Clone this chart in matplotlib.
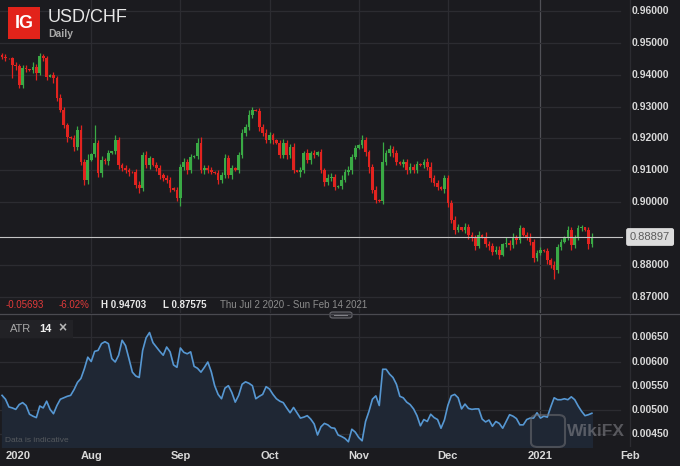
import numpy as np
import pandas as pd
import matplotlib
matplotlib.use('Agg')
import matplotlib.pyplot as plt
import matplotlib.transforms as mtransforms
from matplotlib.patches import Rectangle, FancyBboxPatch

plt.rcParams['font.family'] = ['Liberation Sans', 'DejaVu Sans']

# IG daily axis: Saturdays skipped, small Sunday candles kept
days = pd.date_range('2020-07-02', '2021-02-14')
days = days[days.dayofweek != 5]

first_open = 0.9462
closes = [
    # Jul
    0.9457, 0.9453, 0.9452, 0.9431, 0.9428, 0.9368, 0.9422, 0.9418, 0.9415, 0.9425,
    0.9405, 0.9460, 0.9453, 0.9395, 0.9400, 0.9390, 0.9327, 0.9290, 0.9242, 0.9205,
    0.9200, 0.9173, 0.9227, 0.9126, 0.9070, 0.9132,
    # Aug
    0.9150, 0.9186, 0.9090, 0.9132, 0.9128, 0.9154, 0.9160, 0.9195, 0.9116, 0.9107,
    0.9100, 0.9095, 0.9093, 0.9055, 0.9044, 0.9148, 0.9116, 0.9137, 0.9116, 0.9107,
    0.9085, 0.9075, 0.9070, 0.9044, 0.9038, 0.9013,
    # Sep
    0.9110, 0.9126, 0.9100, 0.9142, 0.9145, 0.9186, 0.9100, 0.9108, 0.9100, 0.9095,
    0.9090, 0.9070, 0.9085, 0.9138, 0.9085, 0.9107, 0.9100, 0.9148, 0.9217, 0.9236,
    0.9274, 0.9290, 0.9287, 0.9236, 0.9217, 0.9195,
    # Oct
    0.9210, 0.9195, 0.9185, 0.9148, 0.9186, 0.9148, 0.9173, 0.9100, 0.9095, 0.9100,
    0.9154, 0.9132, 0.9154, 0.9148, 0.9157, 0.9100, 0.9063, 0.9075, 0.9080, 0.9047,
    0.9050, 0.9070, 0.9095, 0.9100, 0.9142, 0.9170,
    # Nov
    0.9180, 0.9195, 0.9157, 0.9110, 0.9038, 0.9006, 0.9003, 0.9126, 0.9154, 0.9167,
    0.9154, 0.9126, 0.9120, 0.9126, 0.9100, 0.9110, 0.9100, 0.9120, 0.9115, 0.9125,
    0.9110, 0.9075, 0.9060, 0.9047, 0.9040, 0.9075,
    # Dec
    0.8997, 0.8943, 0.8912, 0.8920, 0.8912, 0.8920, 0.8896, 0.8887, 0.8862, 0.8896,
    0.8890, 0.8868, 0.8862, 0.8843, 0.8850, 0.8833, 0.8868, 0.8870, 0.8865, 0.8887,
    0.8880, 0.8918, 0.8896, 0.8890, 0.8874, 0.8824, 0.8840,
    # Jan
    0.8849, 0.8845, 0.8817, 0.8802, 0.8786, 0.8858, 0.8874, 0.8890, 0.8912, 0.8865,
    0.8887, 0.8918, 0.8920, 0.8912, 0.8868, 0.88897,
]

# wick lengths in pips above / below the body
wick_up = [
    8, 8, 2, 6, 10, 8, 10, 8, 2, 15, 10, 10.3, 6, 8, 2, 10, 8, 12, 10, 8, 2, 10, 12, 15, 10, 20,
    3, 56, 10, 12, 8, 10, 2, 15, 10, 8, 10, 6, 2, 10, 12, 10, 12, 8, 3, 10, 8, 6, 10, 8, 2, 10,
    10, 12, 8, 10, 3, 15, 20, 10, 8, 10, 2, 10, 8, 12, 10, 8, 2, 10, 12, 10, 15, 10, 3, 8, 10, 12,
    10, 8, 2, 10, 12, 8, 10, 12, 2, 10, 8, 12, 8, 10, 3, 10, 8, 12, 10, 8, 2, 15, 10, 12, 8, 10,
    3, 15, 10, 8, 10, 12, 2, 64, 10, 12, 8, 10, 2, 10, 8, 12, 10, 8, 2, 10, 12, 15, 10, 8, 2, 10,
    10, 8, 12, 10, 2, 15, 10, 8, 10, 12, 2, 15, 10, 8, 12, 10, 3, 20, 10, 15, 8, 10, 2, 10, 12, 8, 10,
    8, 2, 10, 8, 12, 10, 8, 2, 12, 10, 8, 10, 8, 2, 10, 12,
]
wick_dn = [
    6, 10, 2, 40, 12, 10, 8, 10, 2, 8, 20, 6, 10, 12, 2, 15, 10, 8, 10, 15, 2, 12, 10, 8, 15, 12,
    3, 8, 12, 10, 8, 10, 2, 8, 12, 10, 8, 12, 2, 10, 15, 8, 10, 12, 3, 10, 12, 8, 10, 12, 2, 10,
    25, 10, 12, 8, 2, 10, 10, 12, 10, 8, 2, 12, 10, 8, 10, 12, 2, 8, 10, 10, 8, 10, 2, 12, 10, 8,
    10, 12, 2, 8, 10, 12, 8, 10, 2, 15, 10, 8, 12, 10, 2, 10, 12, 10, 8, 10, 2, 10, 8, 10, 12, 8,
    3, 10, 12, 20, 10, 8, 2, 10, 8, 10, 12, 8, 2, 10, 12, 10, 8, 10, 2, 8, 10, 12, 10, 8, 2, 12,
    12, 10, 12, 8, 2, 10, 12, 10, 12, 8, 2, 10, 12, 10, 8, 12, 3, 10, 15, 10, 12, 8, 2, 10, 8, 12, 10,
    8, 2, 12, 10, 28.5, 10, 8, 2, 10, 15, 10, 8, 10, 2, 15, 10,
]

atr = [
    0.00530, 0.00522, 0.00506, 0.00504, 0.00501, 0.00511, 0.00515, 0.00509, 0.00491, 0.00487,
    0.00484, 0.00508, 0.00504, 0.00518, 0.00501, 0.00492, 0.00509, 0.00522, 0.00525, 0.00528,
    0.00530, 0.00542, 0.00557, 0.00565, 0.00585, 0.00609,
    0.00600, 0.00621, 0.00623, 0.00637, 0.00641, 0.00637, 0.00606, 0.00599, 0.00613, 0.00644,
    0.00633, 0.00606, 0.00578, 0.00570, 0.00567, 0.00623, 0.00649, 0.00660, 0.00639, 0.00630,
    0.00621, 0.00613, 0.00630, 0.00620, 0.00593, 0.00588,
    0.00628, 0.00619, 0.00616, 0.00620, 0.00590, 0.00586, 0.00578, 0.00588, 0.00599, 0.00579,
    0.00550, 0.00532, 0.00523, 0.00545, 0.00550, 0.00536, 0.00516, 0.00530, 0.00553, 0.00558,
    0.00555, 0.00550, 0.00523, 0.00528, 0.00532, 0.00548,
    0.00543, 0.00532, 0.00523, 0.00518, 0.00515, 0.00504, 0.00494, 0.00505, 0.00494, 0.00483,
    0.00485, 0.00488, 0.00481, 0.00471, 0.00448, 0.00465, 0.00472, 0.00469, 0.00463, 0.00462,
    0.00448, 0.00445, 0.00441, 0.00434, 0.00460, 0.00454,
    0.00443, 0.00436, 0.00476, 0.00497, 0.00522, 0.00529, 0.00509, 0.00584, 0.00584, 0.00574,
    0.00567, 0.00553, 0.00528, 0.00525, 0.00516, 0.00511, 0.00502, 0.00488, 0.00467, 0.00480,
    0.00476, 0.00491, 0.00484, 0.00480, 0.00462, 0.00479,
    0.00509, 0.00529, 0.00532, 0.00525, 0.00502, 0.00512, 0.00503, 0.00501, 0.00502, 0.00502,
    0.00481, 0.00475, 0.00479, 0.00466, 0.00476, 0.00472, 0.00462, 0.00476, 0.00490, 0.00487,
    0.00482, 0.00469, 0.00469, 0.00480, 0.00483, 0.00483, 0.00494,
    0.00483, 0.00487, 0.00485, 0.00506, 0.00525, 0.00521, 0.00521, 0.00523, 0.00521, 0.00527,
    0.00521, 0.00508, 0.00497, 0.00488, 0.00490, 0.00493,
]

month_starts = ['2020-07-01', '2020-08-01', '2020-09-01', '2020-10-01',
                '2020-11-01', '2020-12-01', '2021-01-01', '2021-02-01']
month_labels = ['2020', 'Aug', 'Sep', 'Oct', 'Nov', 'Dec', '2021', 'Feb']
# 0.89 label is hidden behind the last price box
price_ticks = [0.87, 0.88, 0.90, 0.91, 0.92, 0.93, 0.94, 0.95, 0.96]
atr_ticks = [0.0045, 0.0050, 0.0055, 0.0060, 0.0065]
last_price = 0.88897

BG = '#1b1b1f'
GRID = '#2c2c31'
RED = '#e2231f'
GREEN = '#3aaa45'
TXT = '#d8d8d8'

n = len(closes)
x = np.arange(n)
c = np.array(closes)
o = np.concatenate([[first_open], c[:-1]])
h = np.maximum(o, c) + np.array(wick_up) * 1e-4
l = np.minimum(o, c) - np.array(wick_dn) * 1e-4
cols = np.where(c >= o, GREEN, RED)

W, H = 680, 466
fig = plt.figure(figsize=(6.8, 4.66), dpi=100, facecolor=BG)

def fx(px):
    return px / W

def fy(py):
    return 1 - py / H

ax = fig.add_axes([0, fy(313), 1, 313 / H])
ax2 = fig.add_axes([0, fy(447), 1, (447 - 314) / H])
xmin, xmax = -0.6, 197.7
for a in (ax, ax2):
    a.set_facecolor(BG)
    a.set_xlim(xmin, xmax)
    for s in a.spines.values():
        s.set_visible(False)
    a.set_xticks([])
    a.set_yticks([])
ax.set_ylim(0.86503, 0.96362)
ax2.set_ylim(0.004232, 0.006983)

# month grid
mpos = [days.searchsorted(pd.Timestamp(d)) for d in month_starts]
for p, lab in zip(mpos[1:], month_labels[1:]):
    gc = '#505056' if lab == '2021' else GRID
    ax.axvline(p, color=gc, lw=0.9, zorder=0)
    ax2.axvline(p, color=gc, lw=0.9, zorder=0)

# price grid and labels
tr = mtransforms.blended_transform_factory(ax.transAxes, ax.transData)
for v in price_ticks:
    ax.axhline(v, xmax=0.912, color=GRID, lw=0.9, zorder=0)
    ax.text(0.956, v, f'{v:.5f}', transform=tr, ha='center', va='center',
            color=TXT, fontsize=7.5, fontweight='bold')

# candles
ax.vlines(x, l, h, colors=cols, lw=0.9, zorder=2)
body = np.maximum(np.abs(c - o), 0.00005)
ax.bar(x, body, bottom=np.minimum(o, c), width=0.78, color=cols,
       linewidth=0, zorder=3)

# last price line
ax.axhline(last_price, xmax=0.915, color='#c4c4c4', lw=0.8, zorder=4)
ax.text(0.956, last_price, f'{last_price:.5f}', transform=tr, ha='center', va='center',
        color='#5c5c5c', fontsize=8,
        bbox=dict(boxstyle='round,pad=0.35,rounding_size=0.2', fc='#dcdcdc', ec='none'))

# ATR pane
tr2 = mtransforms.blended_transform_factory(ax2.transAxes, ax2.transData)
for v in atr_ticks:
    ax2.axhline(v, xmax=0.912, color=GRID, lw=0.9, zorder=0)
    ax2.text(0.956, v, f'{v:.5f}', transform=tr2, ha='center', va='center',
             color=TXT, fontsize=7.5, fontweight='bold')
ax2.fill_between(x, atr, 0, color='#1f2734', zorder=1)
ax2.plot(x, atr, color='#5697d2', lw=1.2, zorder=2)

# pane separator and handle
fig.add_artist(plt.Line2D([0, 1], [fy(313.5), fy(313.5)], color='#4a4a50', lw=0.9))
fig.add_artist(FancyBboxPatch((fx(330), fy(318)), fx(22), 6 / H,
                              boxstyle='round,pad=0,rounding_size=0.004',
                              fc='#2b2b30', ec='#6a6a70', lw=0.8))
fig.add_artist(Rectangle((fx(334), fy(316)), fx(14), 2 / H, fc='#8a8a90', ec='none'))

# header
fig.add_artist(Rectangle((fx(8), fy(39)), fx(32), 32 / H, fc='#e2231a', ec='none'))
fig.text(fx(24), fy(23.5), 'IG', color='white', fontsize=13, fontweight='bold',
         ha='center', va='center')
fig.text(fx(48), fy(17), 'USD/CHF', color='#e6e6e6', fontsize=13, ha='left', va='center')
fig.text(fx(48), fy(34), 'Daily', color='#a8a8a8', fontsize=7.5, fontweight='bold',
         ha='left', va='center')

# info row
iy = fy(305)
fig.text(fx(6), iy, '-0.05693', color='#e03a3a', fontsize=7, va='center')
fig.text(fx(59), iy, '-6.02%', color='#e03a3a', fontsize=7, va='center')
fig.text(fx(101), iy, 'H 0.94703', color='#e8e8e8', fontsize=7, fontweight='bold', va='center')
fig.text(fx(163), iy, 'L 0.87575', color='#e8e8e8', fontsize=7, fontweight='bold', va='center')
fig.text(fx(220), iy, 'Thu Jul 2 2020 - Sun Feb 14 2021', color='#8c8c8c', fontsize=7, va='center')

# ATR legend
fig.add_artist(Rectangle((0, fy(338)), fx(73), 18 / H, fc='#222226', ec='none'))
fig.text(fx(10), fy(329), 'ATR', color='#a8a8a8', fontsize=8, va='center')
fig.text(fx(39), fy(329), '14', color='#f0f0f0', fontsize=8, fontweight='bold', va='center')
fig.text(fx(58), fy(328.5), '\u00d7', color='#b8b8b8', fontsize=10, fontweight='bold', va='center')
fig.text(fx(5), fy(440), 'Data is indicative', color='#55595e', fontsize=6, va='center')

# x labels
trx = mtransforms.blended_transform_factory(ax2.transData, fig.transFigure)
for p, lab in zip(mpos, month_labels):
    if lab == '2020':
        fig.text(fx(6), fy(456), lab, color=TXT, fontsize=8, fontweight='bold',
                 ha='left', va='center')
    else:
        fig.text(p, fy(456), lab, transform=trx, color=TXT, fontsize=8,
                 fontweight='bold', ha='center', va='center')

# watermark (kept clear of the axis labels)
fig.add_artist(FancyBboxPatch((fx(531), fy(447)), fx(34), 32 / H,
                              boxstyle='round,pad=0,rounding_size=0.01',
                              fc='none', ec='#6a6a70', lw=1.5, alpha=0.6))
fig.text(fx(596), fy(432), 'WikiFX', color='#8a8a90', fontsize=12.5, fontweight='bold',
         ha='center', va='center', alpha=0.55)

fig.savefig('out.png', dpi=100, facecolor=BG)
